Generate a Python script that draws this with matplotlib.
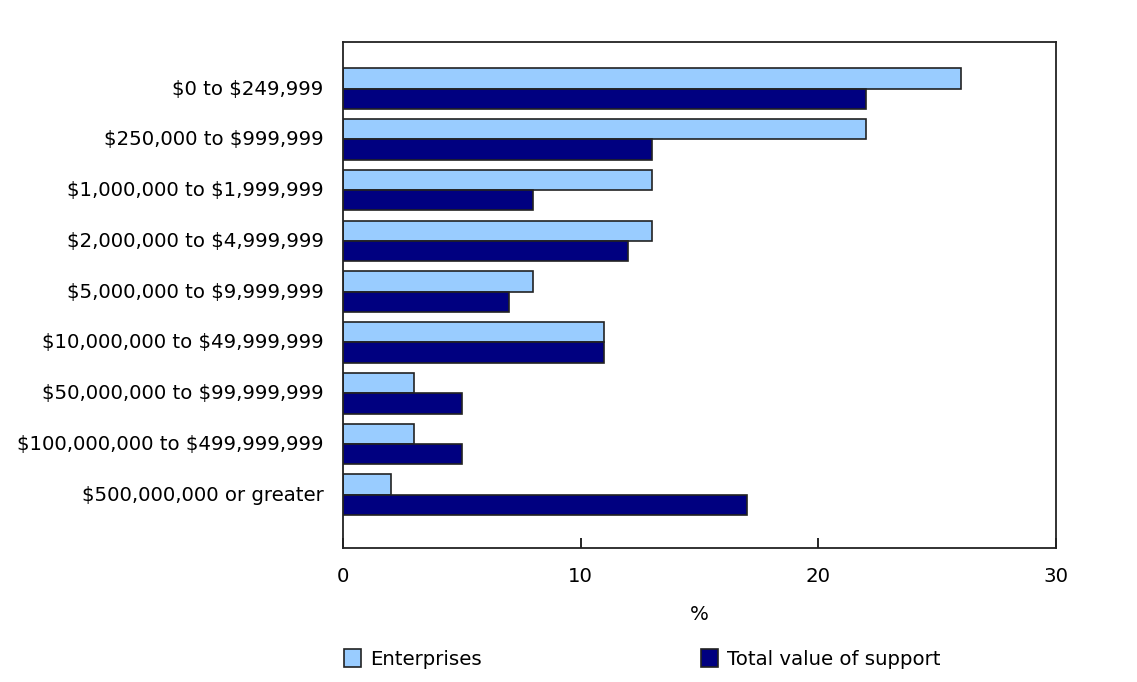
import matplotlib
matplotlib.use("Agg")
import matplotlib.pyplot as plt
import numpy as np
from matplotlib.patches import Patch

plt.rcParams["text.parse_math"] = False

categories = ["$0 to $249,999", "$250,000 to $999,999", "$1,000,000 to $1,999,999",
              "$2,000,000 to $4,999,999", "$5,000,000 to $9,999,999",
              "$10,000,000 to $49,999,999", "$50,000,000 to $99,999,999",
              "$100,000,000 to $499,999,999", "$500,000,000 or greater"]
enterprises = [26, 22, 13, 13, 8, 11, 3, 3, 2]
total_value = [22, 13, 8, 12, 7, 11, 5, 5, 17]
xticks = [0, 10, 20, 30]
series_names = ["Enterprises", "Total value of support"]

light = "#99CCFF"
dark = "#000080"
fs = 14.2

fig = plt.figure(figsize=(11.37, 6.82), dpi=100)
ax = fig.add_axes([343/1137, 1-548/682, (1056-343)/1137, (548-42)/682])

y = np.arange(len(categories))
h = 0.40
ax.barh(y - h/2, enterprises, height=h, color=light, edgecolor="#222222", linewidth=1.2)
ax.barh(y + h/2, total_value, height=h, color=dark, edgecolor="#222222", linewidth=1.2)

ax.set_ylim(9.05, -0.92)
ax.set_xlim(0, 30)
ax.set_yticks(y - 0.03)
ax.set_yticklabels(categories, fontsize=fs)
ax.tick_params(axis="y", length=0, pad=14)
ax.set_xticks(xticks)
ax.set_xticklabels([str(t) for t in xticks], fontsize=fs)
ax.tick_params(axis="x", direction="in", length=7, width=1.2, pad=14)
for s in ax.spines.values():
    s.set_linewidth(1.3)
    s.set_color("#222222")
ax.set_xlabel("%", fontsize=fs, labelpad=13)

for col, name, xpx in [(light, series_names[0], 326), (dark, series_names[1], 683)]:
    fig.legend([Patch(facecolor=col, edgecolor="#222222", linewidth=1.2)], [name],
               loc="center left", bbox_to_anchor=(xpx/1137, 1-659/682), frameon=False,
               fontsize=fs, handlelength=0.85, handleheight=1.05, handletextpad=0.5)

fig.savefig("out.png", dpi=100)
